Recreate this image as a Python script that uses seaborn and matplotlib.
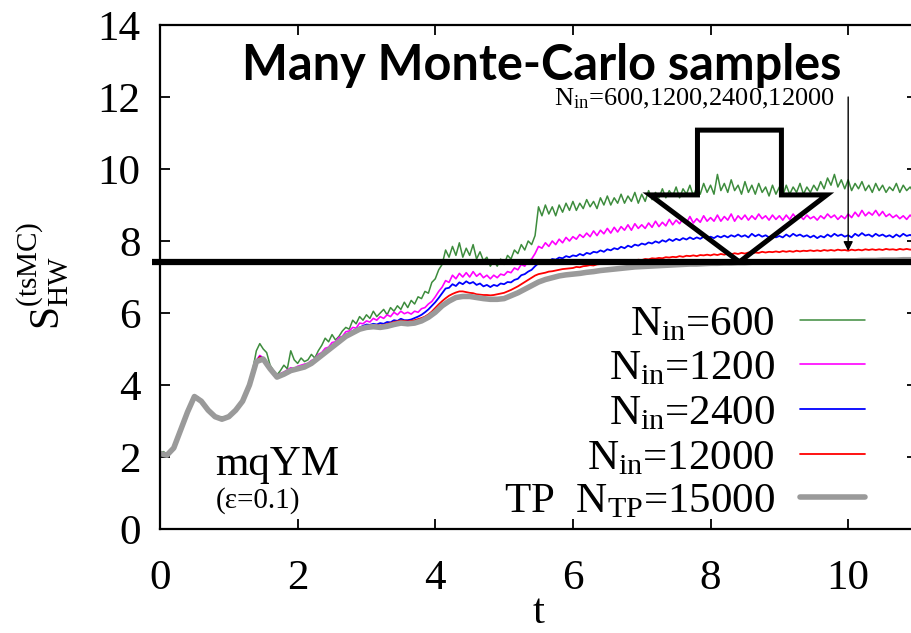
import numpy as np
import pandas as pd
import matplotlib
matplotlib.use("Agg")
import matplotlib.pyplot as plt
import seaborn as sns
from matplotlib.patches import Polygon
from matplotlib.lines import Line2D

# ---------------- data ----------------
t_fine = np.arange(221) * 0.05      # sampling grid of the Monte-Carlo curves
t_tp = np.arange(111) * 0.1         # sampling grid of the TP curve

s_600 = [
    2.12, 2.15, 2.07, 2.14, 2.26, 2.50, 2.76, 3.02, 3.26, 3.52, 3.70, 3.66, 3.57, 3.43, 3.31, 3.22, 3.16, 3.09, 3.12, 3.08,
    3.15, 3.24, 3.33, 3.45, 3.60, 3.82, 4.10, 4.45, 4.95, 5.15, 5.00, 4.90, 4.55, 4.40, 4.28, 4.40, 4.55, 4.45, 4.95, 4.70,
    4.60, 4.75, 4.65, 4.70, 4.85, 4.75, 4.95, 5.10, 5.30, 5.20, 5.40, 5.25, 5.35, 5.50, 5.60, 5.55, 5.80, 5.70, 5.90, 5.80,
    5.95, 5.85, 6.05, 5.90, 6.00, 6.10, 5.95, 6.15, 6.05, 6.20, 6.10, 6.30, 6.15, 6.35, 6.25, 6.45, 6.40, 6.60, 6.55, 6.85,
    6.95, 7.20, 7.35, 7.75, 7.55, 7.85, 7.60, 7.95, 7.55, 7.80, 7.60, 7.90, 7.50, 7.70, 7.45, 7.55, 7.30, 7.45, 7.30, 7.50,
    7.35, 7.60, 7.50, 7.75, 7.65, 7.90, 7.75, 8.00, 7.90, 8.15, 8.95, 8.70, 9.00, 8.75, 8.95, 8.70, 9.00, 8.80, 9.05, 8.85,
    9.10, 8.85, 9.05, 8.90, 9.15, 8.95, 9.10, 8.90, 9.20, 9.00, 9.25, 9.00, 9.20, 9.05, 9.30, 9.05, 9.25, 9.10, 9.35, 9.05,
    9.30, 9.10, 9.40, 9.15, 9.35, 9.20, 9.45, 9.20, 9.40, 9.25, 9.50, 9.20, 9.45, 9.30, 9.55, 9.25, 9.50, 9.30, 9.60, 9.35,
    9.55, 9.30, 9.85, 9.40, 9.60, 9.35, 9.70, 9.40, 9.55, 9.30, 9.65, 9.35, 9.55, 9.30, 9.60, 9.35, 9.50, 9.25, 9.55, 9.30,
    9.50, 9.25, 9.55, 9.30, 9.50, 9.35, 9.60, 9.30, 9.50, 9.35, 9.55, 9.40, 9.65, 9.45, 9.75, 9.55, 9.85, 9.50, 9.70, 9.45,
    9.70, 9.40, 9.60, 9.45, 9.65, 9.40, 9.55, 9.35, 9.60, 9.40, 9.55, 9.35, 9.50, 9.40, 9.60, 9.35, 9.55, 9.40, 9.50, 9.35, 9.45,
]
s_1200 = [
    2.11, 2.08, 2.06, 2.13, 2.27, 2.49, 2.76, 3.01, 3.26, 3.51, 3.69, 3.66, 3.56, 3.43, 3.31, 3.21, 3.14, 3.10, 3.07, 3.09,
    3.14, 3.22, 3.32, 3.44, 3.57, 3.77, 4.03, 4.33, 4.68, 4.82, 4.76, 4.62, 4.48, 4.36, 4.26, 4.32, 4.36, 4.42, 4.48, 4.46,
    4.52, 4.55, 4.58, 4.60, 4.68, 4.72, 4.85, 4.90, 5.02, 5.05, 5.18, 5.20, 5.32, 5.35, 5.48, 5.50, 5.60, 5.58, 5.72, 5.70,
    5.78, 5.75, 5.85, 5.80, 5.90, 5.85, 5.95, 5.90, 6.02, 5.95, 6.05, 5.98, 6.02, 5.97, 6.05, 6.02, 6.12, 6.15, 6.25, 6.32,
    6.45, 6.60, 6.72, 6.90, 6.85, 7.05, 6.95, 7.10, 7.00, 7.12, 7.00, 7.15, 7.02, 7.10, 6.98, 7.05, 6.95, 7.05, 6.98, 7.08,
    7.05, 7.15, 7.12, 7.25, 7.20, 7.35, 7.30, 7.45, 7.50, 7.65, 7.85, 7.80, 7.95, 7.85, 8.00, 7.90, 8.05, 7.95, 8.10, 8.00,
    8.12, 8.05, 8.18, 8.10, 8.22, 8.12, 8.28, 8.15, 8.30, 8.20, 8.35, 8.22, 8.38, 8.25, 8.40, 8.30, 8.45, 8.30, 8.48, 8.35,
    8.45, 8.35, 8.50, 8.38, 8.55, 8.40, 8.52, 8.42, 8.60, 8.45, 8.58, 8.48, 8.62, 8.50, 8.68, 8.50, 8.62, 8.52, 8.70, 8.55,
    8.65, 8.55, 8.72, 8.55, 8.68, 8.58, 8.75, 8.55, 8.70, 8.60, 8.72, 8.58, 8.70, 8.60, 8.75, 8.62, 8.70, 8.58, 8.72, 8.60,
    8.70, 8.58, 8.72, 8.60, 8.75, 8.62, 8.70, 8.60, 8.72, 8.62, 8.68, 8.58, 8.70, 8.62, 8.75, 8.65, 8.72, 8.60, 8.70, 8.62,
    8.75, 8.65, 8.80, 8.68, 8.85, 8.70, 8.80, 8.72, 8.85, 8.70, 8.82, 8.68, 8.75, 8.65, 8.72, 8.62, 8.70, 8.60, 8.72, 8.62, 8.68,
]
s_2400 = [
    2.11, 2.07, 2.06, 2.13, 2.26, 2.49, 2.76, 3.01, 3.26, 3.51, 3.69, 3.66, 3.56, 3.43, 3.31, 3.21, 3.13, 3.09, 3.06, 3.08,
    3.13, 3.21, 3.31, 3.43, 3.56, 3.76, 4.01, 4.31, 4.66, 4.79, 4.73, 4.59, 4.46, 4.33, 4.24, 4.27, 4.32, 4.37, 4.42, 4.44,
    4.47, 4.50, 4.53, 4.57, 4.63, 4.69, 4.78, 4.84, 4.94, 4.99, 5.10, 5.14, 5.25, 5.30, 5.40, 5.44, 5.50, 5.55, 5.60, 5.64,
    5.68, 5.67, 5.70, 5.68, 5.72, 5.70, 5.75, 5.74, 5.80, 5.78, 5.84, 5.80, 5.80, 5.82, 5.86, 5.90, 5.95, 6.02, 6.10, 6.20,
    6.30, 6.42, 6.55, 6.68, 6.70, 6.80, 6.75, 6.85, 6.80, 6.88, 6.82, 6.86, 6.78, 6.82, 6.74, 6.78, 6.72, 6.78, 6.75, 6.82,
    6.80, 6.86, 6.85, 6.92, 6.95, 7.05, 7.08, 7.15, 7.20, 7.30, 7.38, 7.40, 7.45, 7.44, 7.50, 7.48, 7.54, 7.52, 7.58, 7.55,
    7.60, 7.58, 7.64, 7.60, 7.67, 7.64, 7.70, 7.68, 7.74, 7.70, 7.77, 7.74, 7.80, 7.77, 7.84, 7.80, 7.87, 7.83, 7.90, 7.87,
    7.93, 7.90, 7.96, 7.93, 7.99, 7.95, 8.02, 7.98, 8.05, 8.00, 8.06, 8.02, 8.08, 8.04, 8.10, 8.05, 8.10, 8.06, 8.12, 8.07,
    8.12, 8.08, 8.14, 8.10, 8.15, 8.10, 8.16, 8.12, 8.18, 8.12, 8.16, 8.10, 8.20, 8.13, 8.18, 8.12, 8.16, 8.10, 8.15, 8.10,
    8.14, 8.10, 8.18, 8.12, 8.20, 8.14, 8.18, 8.12, 8.16, 8.10, 8.15, 8.08, 8.14, 8.10, 8.18, 8.12, 8.20, 8.14, 8.18, 8.12,
    8.16, 8.10, 8.20, 8.14, 8.22, 8.15, 8.18, 8.12, 8.20, 8.14, 8.18, 8.12, 8.16, 8.10, 8.18, 8.12, 8.20, 8.14, 8.17, 8.12, 8.15,
]
s_12000 = [
    2.10, 2.06, 2.05, 2.12, 2.25, 2.48, 2.75, 3.00, 3.25, 3.50, 3.68, 3.65, 3.55, 3.42, 3.30, 3.20, 3.12, 3.08, 3.05, 3.07,
    3.12, 3.20, 3.30, 3.42, 3.55, 3.75, 4.00, 4.30, 4.65, 4.78, 4.72, 4.58, 4.45, 4.32, 4.22, 4.25, 4.30, 4.35, 4.40, 4.42,
    4.47, 4.49, 4.52, 4.57, 4.62, 4.69, 4.77, 4.84, 4.92, 4.99, 5.07, 5.14, 5.22, 5.30, 5.37, 5.42, 5.47, 5.52, 5.57, 5.60,
    5.64, 5.65, 5.66, 5.66, 5.65, 5.67, 5.69, 5.72, 5.75, 5.77, 5.79, 5.78, 5.77, 5.78, 5.80, 5.83, 5.86, 5.90, 5.96, 6.04,
    6.14, 6.24, 6.33, 6.41, 6.48, 6.53, 6.57, 6.60, 6.60, 6.58, 6.56, 6.55, 6.52, 6.51, 6.50, 6.50, 6.49, 6.50, 6.52, 6.54,
    6.56, 6.60, 6.64, 6.69, 6.74, 6.80, 6.86, 6.92, 6.98, 7.04, 7.08, 7.10, 7.12, 7.15, 7.16, 7.18, 7.20, 7.22, 7.23, 7.24,
    7.25, 7.28, 7.27, 7.30, 7.31, 7.33, 7.32, 7.35, 7.36, 7.38, 7.37, 7.40, 7.40, 7.42, 7.42, 7.44, 7.43, 7.46, 7.46, 7.48,
    7.47, 7.50, 7.49, 7.52, 7.51, 7.53, 7.52, 7.55, 7.54, 7.56, 7.55, 7.58, 7.56, 7.59, 7.58, 7.60, 7.58, 7.61, 7.60, 7.62,
    7.60, 7.63, 7.61, 7.64, 7.62, 7.65, 7.63, 7.66, 7.64, 7.67, 7.65, 7.68, 7.66, 7.68, 7.67, 7.70, 7.68, 7.70, 7.69, 7.71,
    7.69, 7.72, 7.70, 7.72, 7.70, 7.73, 7.71, 7.73, 7.72, 7.74, 7.72, 7.74, 7.72, 7.75, 7.73, 7.75, 7.73, 7.76, 7.74, 7.75,
    7.73, 7.76, 7.74, 7.76, 7.74, 7.77, 7.75, 7.77, 7.75, 7.77, 7.75, 7.78, 7.76, 7.77, 7.75, 7.78, 7.76, 7.78, 7.76, 7.77, 7.76,
]
s_tp = [
    2.10, 2.05, 2.25, 2.75, 3.25, 3.68, 3.55, 3.30, 3.12, 3.05,
    3.12, 3.30, 3.55, 4.00, 4.65, 4.72, 4.45, 4.22, 4.30, 4.40,
    4.45, 4.50, 4.60, 4.75, 4.90, 5.05, 5.20, 5.35, 5.45, 5.55,
    5.60, 5.62, 5.60, 5.63, 5.68, 5.72, 5.70, 5.72, 5.78, 5.88,
    6.02, 6.20, 6.33, 6.43, 6.46, 6.46, 6.43, 6.40, 6.38, 6.38,
    6.40, 6.48, 6.56, 6.66, 6.76, 6.86, 6.93, 6.98, 7.03, 7.06,
    7.08, 7.10, 7.13, 7.15, 7.18, 7.20, 7.22, 7.24, 7.26, 7.28,
    7.29, 7.30, 7.31, 7.32, 7.33, 7.34, 7.35, 7.36, 7.36, 7.37,
    7.38, 7.38, 7.39, 7.39, 7.40, 7.40, 7.41, 7.41, 7.41, 7.42,
    7.42, 7.42, 7.43, 7.43, 7.43, 7.44, 7.44, 7.44, 7.45, 7.45,
    7.45, 7.45, 7.46, 7.46, 7.46, 7.47, 7.47, 7.47, 7.48, 7.48, 7.48,
]

labels = [r"N$_{\rm in}$=600", r"N$_{\rm in}$=1200", r"N$_{\rm in}$=2400",
          r"N$_{\rm in}$=12000", r"TP  N$_{\rm TP}$=15000"]
colors = ["#3d8c3d", "#ff00ff", "#0000ff", "#ff0000", "#9a9a9a"]
widths = [1.1, 1.2, 1.3, 1.3, 4.0]

x_ticks = [0, 2, 4, 6, 8, 10]
y_ticks = [0, 2, 4, 6, 8, 10, 12, 14]

level_line = 7.42                    # thick horizontal reference line
# hollow block arrow (t, S) outline
arrow_shaft = (7.81, 9.03)           # shaft left/right
arrow_head = (7.12, 9.69)            # head base left/right
arrow_top, arrow_neck, arrow_tip = 11.08, 9.28, (8.42, 7.42)
thin_arrow_t, thin_arrow_from, thin_arrow_to = 10.0, 12.0, 7.72

# ---------------- style ----------------
sns.set_theme(style="ticks")
plt.rcParams["font.family"] = ["Liberation Serif", "DejaVu Serif"]
plt.rcParams["mathtext.fontset"] = "custom"
plt.rcParams["mathtext.rm"] = "Liberation Serif"
plt.rcParams["mathtext.it"] = "Liberation Serif:italic"
plt.rcParams["mathtext.bf"] = "Liberation Serif:bold"
plt.rcParams["text.color"] = "black"
plt.rcParams["axes.labelcolor"] = "black"

fig = plt.figure(figsize=(9.12, 6.33), dpi=100)
ax = fig.add_axes([160 / 912, 104 / 633, 757 / 912, 504 / 633])

series = [(t_fine, s_600), (t_fine, s_1200), (t_fine, s_2400), (t_fine, s_12000), (t_tp, s_tp)]
for (tt, vals), c, w in zip(series, colors, widths):
    sns.lineplot(x=tt, y=vals, ax=ax, color=c, lw=w, estimator=None, sort=False, legend=False)

ax.set_xlim(0, 11)
ax.set_ylim(0, 14)
ax.set_xticks(x_ticks)
ax.set_yticks(y_ticks)
ax.tick_params(direction="in", length=7, width=1.3, top=True, right=True,
               labelsize=31, colors="black")
ax.tick_params(axis="y", pad=14)
ax.tick_params(axis="x", pad=22)
for sp in ax.spines.values():
    sp.set_visible(True)
    sp.set_linewidth(1.6)
    sp.set_color("black")
ax.set_xlabel("t", fontsize=31, labelpad=-3)
ax.set_ylabel("")
fig.text(43 / 912, 1 - 276 / 633, r"S$_{\rm HW}^{\rm (tsMC)}$", rotation=90,
         ha="center", va="center", fontsize=30)

# manual legend (labels right-aligned, line sample on the right)
row_px = [320, 364, 409, 454, 497]
for lab, c, w, yp in zip(labels, colors, widths, row_px):
    yfrac = (529 - yp) / 504
    ax.text((775 - 160) / 757, yfrac - 0.030, lab, transform=ax.transAxes,
            ha="right", va="baseline", fontsize=31)
    ax.add_line(Line2D([(800 - 160) / 757, (865 - 160) / 757], [yfrac, yfrac],
                       transform=ax.transAxes, color=c, lw=w))

ax.text(0.073, 0.108, "mqYM", transform=ax.transAxes, fontsize=31, va="baseline")
ax.text(0.073, 0.042, "(ε=0.1)", transform=ax.transAxes, fontsize=21, va="baseline")

# thick horizontal line
ax.plot([-0.12, 11], [level_line, level_line], color="black", lw=4.5, clip_on=False,
        solid_capstyle="butt", zorder=5)

# hollow block arrow
outline = [(arrow_shaft[0], arrow_top), (arrow_shaft[1], arrow_top), (arrow_shaft[1], arrow_neck),
           (arrow_head[1], arrow_neck), arrow_tip, (arrow_head[0], arrow_neck),
           (arrow_shaft[0], arrow_neck)]
ax.add_patch(Polygon(outline, closed=True, fill=False, edgecolor="black", lw=3.6,
                     joinstyle="miter", zorder=6))

# thin arrow + annotation
ax.annotate("", xy=(thin_arrow_t, thin_arrow_to), xytext=(thin_arrow_t, thin_arrow_from),
            arrowprops=dict(arrowstyle="-|>", color="black", lw=1.0, mutation_scale=14,
                            shrinkA=0, shrinkB=0), zorder=6)
ax.text(9.81, 11.78, r"N$_{\rm in}$=600,1200,2400,12000", fontsize=19, ha="right", va="baseline")

fig.text(542 / 912, 1 - 65 / 633, "Many Monte-Carlo samples", ha="center", va="center",
         fontsize=35, fontweight="bold", family=["Lato", "DejaVu Sans"], color="black")

fig.savefig("out.png", dpi=100)
